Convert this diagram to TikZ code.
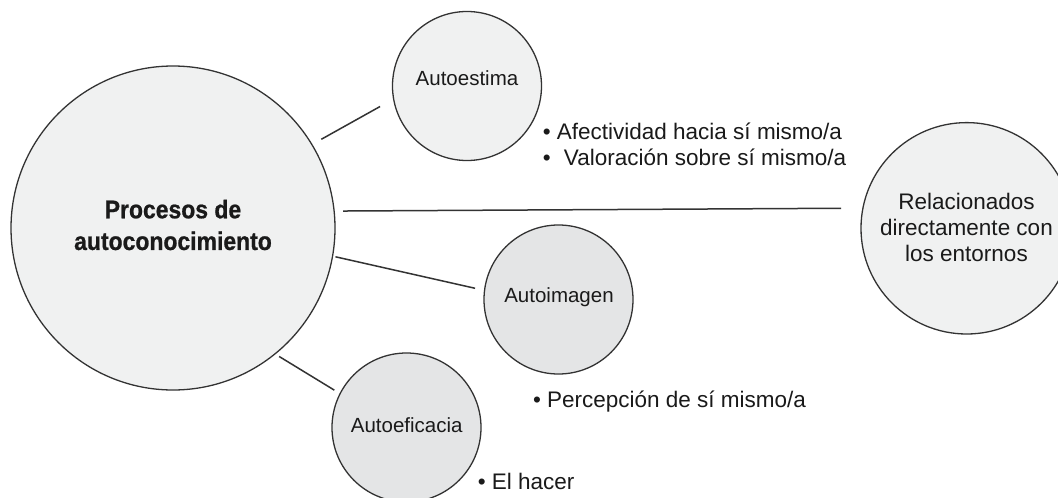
\documentclass[tikz,border=0pt]{standalone}
\usepackage{fontspec}
\setmainfont{Liberation Sans}
\newfontfamily\condfont[FakeStretch=0.9,FakeBold=0.8]{Liberation Sans}
\definecolor{lightfill}{HTML}{F0F1F1}
\definecolor{darkfill}{HTML}{E4E5E6}
\definecolor{edge}{HTML}{333333}
\definecolor{ink}{HTML}{1A1A1A}
\tikzset{
  circ/.style={circle, draw=edge, line width=1.3pt, inner sep=0pt, outer sep=0pt},
  light/.style={fill=lightfill},
  dark/.style={fill=darkfill},
  conn/.style={draw=edge, line width=1.5pt},
  lbl/.style={inner sep=0pt, outer sep=0pt, text=ink, font=\fontsize{20.5}{24}\selectfont},
  note/.style={inner sep=0pt, outer sep=0pt, text=ink, anchor=base west, font=\fontsize{22.5}{26}\selectfont},
}
\begin{document}
\begin{tikzpicture}[x=1pt,y=-1pt]
\fill[white] (0,0) rectangle (1058,498);
\useasboundingbox (0,0) rectangle (1058,498);
% circles
\node[circ, light, minimum size=324pt] (big) at (173,228) {};
\node[circ, light, minimum size=149pt] (est) at (467,86) {};
\node[circ, dark, minimum size=149pt] (img) at (558.5,299.5) {};
\node[circ, dark, minimum size=149pt] (efi) at (406.5,427.5) {};
\node[circ, light, minimum size=211.4pt] (rel) at (966.7,228.3) {};
% circle texts
\node[lbl, anchor=center, align=center, font=\condfont\bfseries\fontsize{25.5}{31.7}\selectfont] (bigT) at (173,225) {Procesos de\\autoconocimiento};
\node[lbl, anchor=base] (estT) at (467,85.7) {Autoestima};
\node[lbl, anchor=base] (imgT) at (559,302.7) {Autoimagen};
\node[lbl, anchor=base] (efiT) at (406.7,432.7) {Autoeficacia};
\node[lbl, anchor=center, align=center, font=\fontsize{22.5}{25.8}\selectfont] (relT) at (966.5,227.7) {Relacionados\\directamente con\\los entornos};
% connectors
\draw[conn, shorten <=10.8pt, shorten >=15.5pt] (big.31.2) -- (est.-170.35);
\draw[conn, shorten <=9.1pt, shorten >=21.8pt] (big.6.73) -- (rel.169.5);
\draw[conn, shorten <=3pt, shorten >=9.7pt] (big.-10.8) -- (img.173.4);
\draw[conn, shorten <=4.9pt, shorten >=6.8pt] (big.-51.06) -- (efi.153.5);
% notes
\node[note] (n1) at (542.8,139) {• Afectividad hacia sí mismo/a};
\node[note] (n2) at (542.8,165) {•\hspace{7pt} Valoración sobre sí mismo/a};
\node[note] (n3) at (533,407) {• Percepción de sí mismo/a};
\node[note] (n4) at (477.8,489.7) {• El hacer};
\end{tikzpicture}
\end{document}
